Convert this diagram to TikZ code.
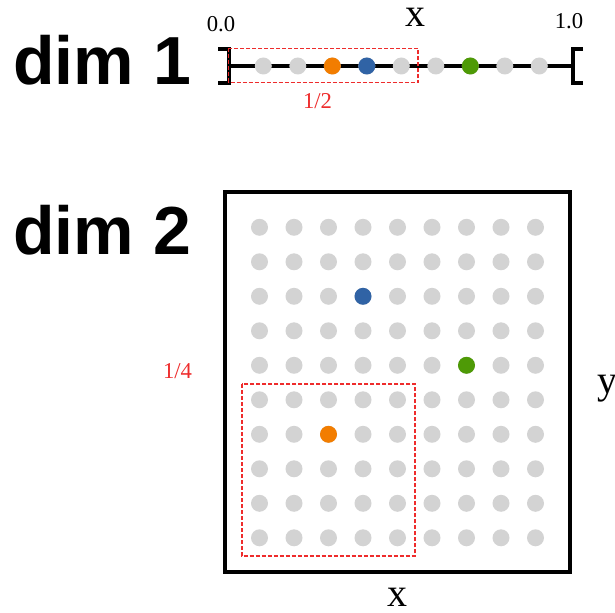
\documentclass[tikz,border=0pt]{standalone}
\usepackage{fontspec}
\setmainfont{Liberation Serif}
\newfontfamily\dimfont{Liberation Sans}
\definecolor{dotgray}{HTML}{D3D3D3}
\definecolor{dotorange}{HTML}{F27D00}
\definecolor{dotblue}{HTML}{3063A5}
\definecolor{dotgreen}{HTML}{4E9A06}
\definecolor{boxred}{HTML}{EE2C2C}
\begin{document}
\begin{tikzpicture}[x=0.75pt,y=-0.75pt,
  dot/.style={circle,fill=dotgray,draw=none,inner sep=0pt,minimum size=12.75pt},
  dimlabel/.style={anchor=base west,inner sep=0pt,font=\dimfont\bfseries\fontsize{51}{51}\selectfont},
  axislabel/.style={anchor=base,inner sep=0pt,font=\fontsize{30}{30}\selectfont},
  numlabel/.style={anchor=base,inner sep=0pt,font=\fontsize{17}{17}\selectfont},
  redlabel/.style={numlabel,text=boxred},
  redbox/.style={draw=boxred,line width=1.3pt,dash pattern=on 3pt off 1.5pt},
  frame/.style={draw=black,line width=3pt},
  axisline/.style={draw=black,line width=2.5pt}]
\useasboundingbox (0,0) rectangle (615,613);

% ---------- dim 1 ----------
\node[dimlabel] (d1) at (13,85) {dim 1};
\coordinate (L) at (229,66);
\coordinate (R) at (573,66);
\draw[axisline] (L) -- (R);
\draw[axisline] (218,49) -- (229,49) -- (229,83) -- (218,83);
\draw[axisline] (583,49) -- (573,49) -- (573,83) -- (583,83);
\foreach \i in {0,...,8}
  \node[dot] (a-\i) at (263.3+34.5*\i,66) {};
\node[dot,fill=dotorange] at (a-2) {};
\node[dot,fill=dotblue] at (a-3) {};
\node[dot,fill=dotgreen] at (a-6) {};
\draw[redbox] (228.5,48.5) rectangle (418.3,82.5);
\node[redlabel] (half) at (317.5,109) {1/2};
\node[numlabel] (zero) at (221,32) {0.0};
\node[numlabel] (one) at (569,29) {1.0};
\node[axislabel] (x1) at (415,27) {x};

% ---------- dim 2 ----------
\node[dimlabel] (d2) at (13,255) {dim 2};
\draw[frame] (225,192) rectangle (570,572);
\foreach \i in {0,...,8}
  \foreach \j in {0,...,9}
    \node[dot] (g-\i-\j) at (259.5+34.5*\i,227.3+34.5*\j) {};
\node[dot,fill=dotblue] at (g-3-2) {};
\node[dot,fill=dotgreen] at (g-6-4) {};
\node[dot,fill=dotorange] at (g-2-6) {};
\draw[redbox] (241.7,384) rectangle (415,556);
\node[redlabel] (quarter) at (177.5,379) {1/4};
\node[axislabel] (x2) at (397,606) {x};
\node[axislabel] (y2) at (607,393) {y};
\end{tikzpicture}
\end{document}
